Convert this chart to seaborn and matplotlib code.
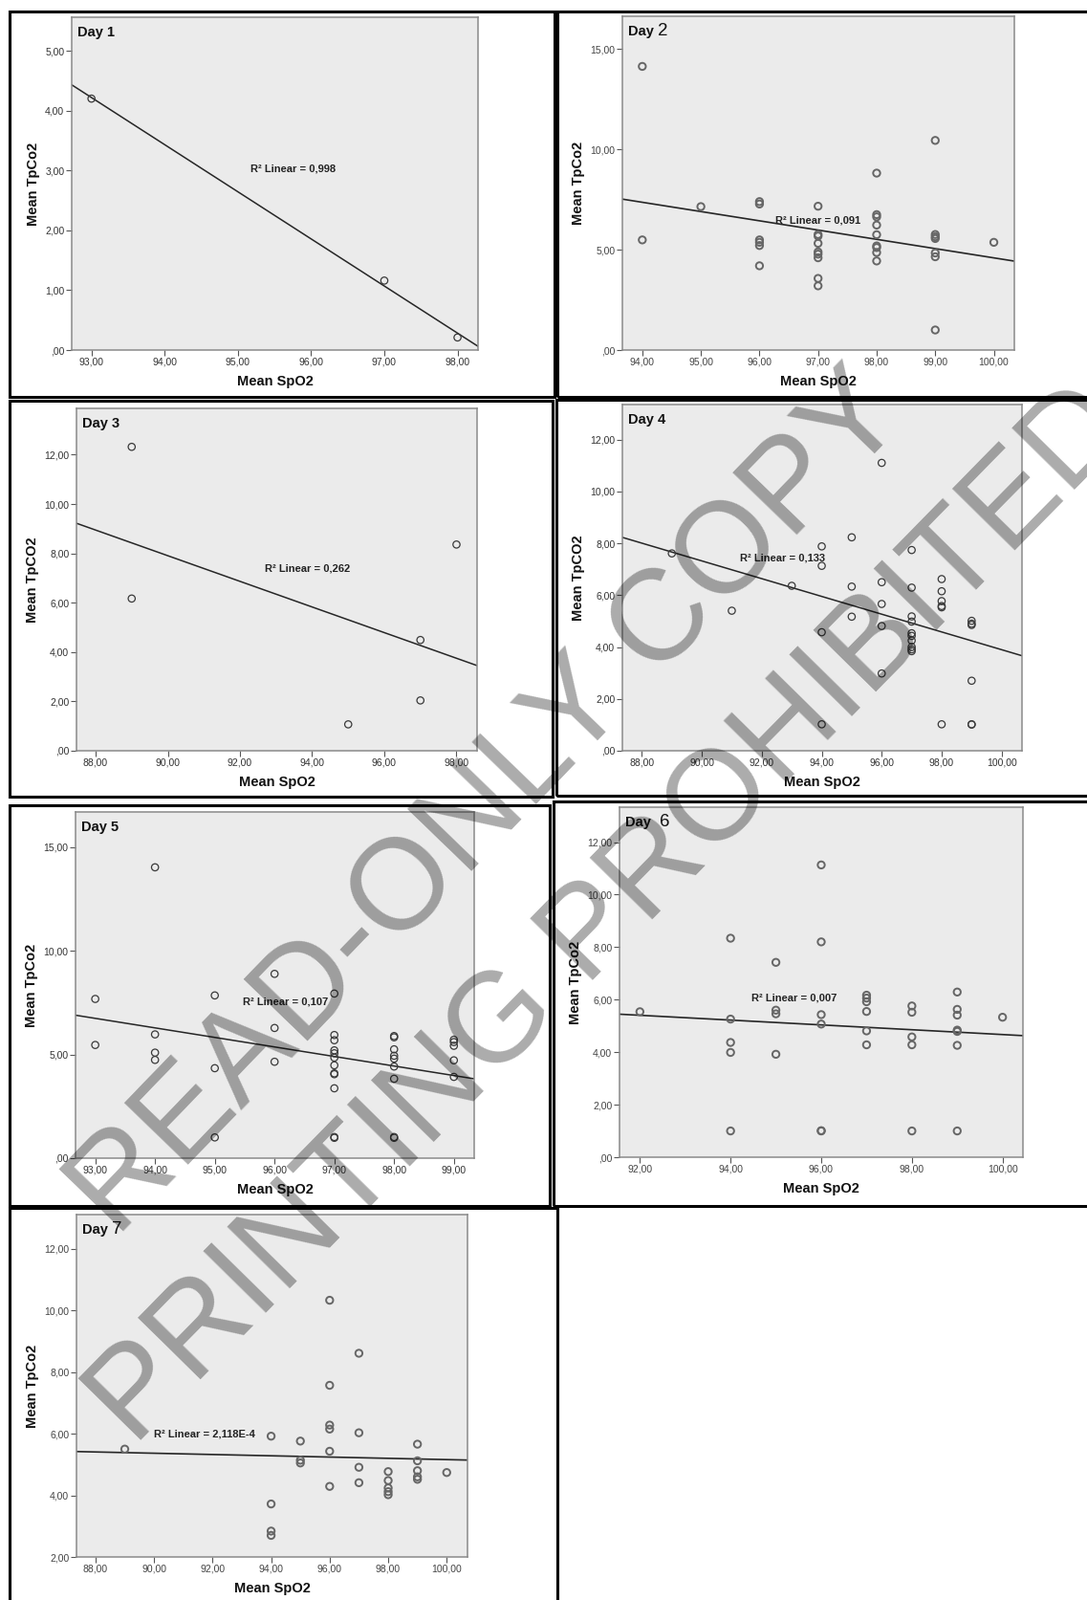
import matplotlib
matplotlib.use("Agg")
import matplotlib.pyplot as plt
from matplotlib.patches import Rectangle
from matplotlib.ticker import FuncFormatter, MultipleLocator
import seaborn as sns
import numpy as np
import pandas as pd

# ---------------- data ----------------
day1_spo2 = [93, 97, 98]
day1_tpco2 = [4.20, 1.16, 0.21]

day2_spo2 = [94, 94, 95, 96, 96, 96, 96, 96, 96, 97, 97, 97, 97, 97, 97, 97, 97, 97,
             98, 98, 98, 98, 98, 98, 98, 98, 98, 99, 99, 99, 99, 99, 99, 99, 100]
day2_tpco2 = [14.14, 5.49, 7.15, 7.40, 7.28, 5.49, 5.37, 5.21, 4.20, 7.17, 5.76, 5.68, 5.32,
              4.89, 4.78, 4.60, 3.57, 3.20, 8.82, 6.75, 6.64, 6.23, 5.75, 5.19, 5.11, 4.86,
              4.44, 10.45, 5.76, 5.65, 5.56, 4.84, 4.65, 1.00, 5.37]

day3_spo2 = [89, 89, 95, 97, 97, 98]
day3_tpco2 = [12.32, 6.17, 1.07, 4.49, 2.04, 8.36]

day4_spo2 = [89, 91, 93, 94, 94, 94, 94, 95, 95, 95, 96, 96, 96, 96, 96,
             97, 97, 97, 97, 97, 97, 97, 97, 97, 97, 98, 98, 98, 98, 98, 98,
             99, 99, 99, 99, 99, 99]
day4_tpco2 = [7.61, 5.40, 6.36, 7.88, 7.13, 4.57, 1.02, 8.23, 6.33, 5.17, 11.10, 6.50, 5.66,
              4.81, 2.98, 7.74, 6.29, 5.18, 4.98, 4.53, 4.43, 4.25, 4.00, 3.91, 3.84, 6.62,
              6.15, 5.77, 5.58, 5.53, 1.02, 5.01, 4.90, 4.85, 2.70, 1.02, 1.01]

day5_spo2 = [93, 93, 94, 94, 94, 94, 95, 95, 95, 96, 96, 96,
             97, 97, 97, 97, 97, 97, 97, 97, 97, 97, 97, 97,
             98, 98, 98, 98, 98, 98, 98, 98, 98, 99, 99, 99, 99, 99]
day5_tpco2 = [7.68, 5.46, 14.03, 5.97, 5.09, 4.74, 7.85, 4.34, 1.00, 8.89, 6.28, 4.65,
              7.94, 5.94, 5.69, 5.20, 5.06, 4.85, 4.48, 4.09, 4.05, 3.37, 1.02, 0.98,
              5.89, 5.83, 5.25, 4.94, 4.80, 4.42, 3.83, 1.02, 0.98, 5.71, 5.60, 5.42, 4.72, 3.92]

day6_spo2 = [92, 94, 94, 94, 94, 94, 95, 95, 95, 95, 96, 96, 96, 96, 96, 96,
             97, 97, 97, 97, 97, 97, 98, 98, 98, 98, 98,
             99, 99, 99, 99, 99, 99, 99, 100]
day6_tpco2 = [5.54, 8.34, 5.26, 4.37, 3.99, 1.00, 7.42, 5.60, 5.46, 3.92, 11.13, 8.20, 5.43,
              5.07, 1.00, 1.01, 6.17, 6.06, 5.92, 5.55, 4.81, 4.28, 5.76, 5.52, 4.58, 4.28, 1.00,
              6.29, 5.63, 5.41, 4.84, 4.79, 4.26, 1.00, 5.33]

day7_spo2 = [89, 94, 94, 94, 94, 95, 95, 95, 96, 96, 96, 96, 96, 96,
             97, 97, 97, 97, 98, 98, 98, 98, 98, 99, 99, 99, 99, 99, 100]
day7_tpco2 = [5.50, 5.92, 3.72, 2.84, 2.70, 5.76, 5.14, 5.05, 10.33, 7.57, 6.28, 6.15, 5.43, 4.29,
              8.61, 6.03, 4.91, 4.41, 4.77, 4.48, 4.24, 4.12, 4.02, 5.66, 5.12, 4.80, 4.60, 4.52, 4.74]

day_words = ["Day", "Day", "Day", "Day", "Day", "Day", "Day"]
day_numbers = ["1", "2", "3", "4", "5", "6", "7"]
y_labels = ["Mean TpCo2", "Mean TpCo2", "Mean TpCO2", "Mean TpCO2",
            "Mean TpCo2", "Mean TpCo2", "Mean TpCo2"]
x_label = "Mean SpO2"
r2_labels = ["R² Linear = 0,998", "R² Linear = 0,091", "R² Linear = 0,262",
             "R² Linear = 0,133", "R² Linear = 0,107", "R² Linear = 0,007",
             "R² Linear = 2,118E-4"]
watermark_lines = ["READ-ONLY COPY", "PRINTING PROHIBITED"]

all_spo2 = [day1_spo2, day2_spo2, day3_spo2, day4_spo2, day5_spo2, day6_spo2, day7_spo2]
all_tpco2 = [day1_tpco2, day2_tpco2, day3_tpco2, day4_tpco2, day5_tpco2, day6_tpco2, day7_tpco2]

# ---------------- layout / style ----------------
W, H = 1137, 1673
# plot areas in pixels: left, top, right, bottom
axes_px = [(75, 18, 500, 366), (651, 17, 1061, 366),
           (80, 427, 499, 785), (651, 423, 1069, 785),
           (79, 849, 496, 1211), (648, 844, 1070, 1210),
           (80, 1270, 489, 1628)]
boxes_px = [(10, 12, 580, 415), (583, 12, 1145, 415),
            (10, 419, 578, 833), (582, 418, 1145, 832),
            (10, 842, 575, 1261), (579, 838, 1145, 1261),
            (10, 1263, 583, 1685)]
xlims = [(92.73, 98.28), (93.66, 100.35), (87.47, 98.57), (87.35, 100.68),
         (92.67, 99.34), (91.55, 100.45), (87.35, 100.71)]
ylims = [(0, 5.56), (0, 16.64), (0, 13.88), (0, 13.35), (0, 16.7), (0, 13.33), (2, 13.11)]
xsteps = [1, 1, 2, 2, 1, 2, 2]
ysteps = [1, 5, 2, 2, 5, 2, 2]
r2_pos = [(95.75, 3.03), (97.0, 6.48), (93.88, 7.40), (92.68, 7.42),
          (96.19, 7.52), (95.40, 6.06), (91.71, 6.00)]
# scanned panels (2, 6, 7) look softer: grey, thicker circles, bigger day number
soft = [False, True, False, False, False, True, True]
num_offset = [22, 22, 22, 22, 22, 26, 22]
# watermark placement (pixel centre, angle, size)
wm_pos = [(512, 842), (638, 958)]
wm_angle = [46.0, 45.5]
wm_size = [97, 96]

sns.set_style("white")
plt.rcParams["font.family"] = ["Liberation Sans", "DejaVu Sans"]


def spss_fmt(v, pos):
    s = f"{v:.2f}".replace(".", ",")
    if s.startswith("0,"):
        s = s[1:]
    return s


fig = plt.figure(figsize=(W / 100, H / 100), dpi=100)
fig.patch.set_facecolor("white")

for i in range(7):
    l, t, r, b = axes_px[i]
    ax = fig.add_axes([l / W, 1 - b / H, (r - l) / W, (b - t) / H])
    ax.set_facecolor("#ebebeb")
    ax.set_xlim(*xlims[i])
    ax.set_ylim(*ylims[i])
    df = pd.DataFrame({"spo2": all_spo2[i], "tpco2": all_tpco2[i]})
    ec = "#666666" if soft[i] else "#3a3a3a"
    elw = 1.4 if soft[i] else 0.9
    sns.regplot(data=df, x="spo2", y="tpco2", ax=ax, ci=None, truncate=False,
                color="#333333",
                scatter_kws=dict(facecolors="none", edgecolors=ec, s=28,
                                 linewidths=elw, alpha=1, zorder=3),
                line_kws=dict(color="#262626", lw=1.2 if soft[i] else 1.1, zorder=2))
    ax.set_xlim(*xlims[i])
    ax.set_ylim(*ylims[i])
    ax.xaxis.set_major_locator(MultipleLocator(xsteps[i]))
    ax.yaxis.set_major_locator(MultipleLocator(ysteps[i]))
    ax.xaxis.set_major_formatter(FuncFormatter(spss_fmt))
    ax.yaxis.set_major_formatter(FuncFormatter(spss_fmt))
    ax.tick_params(axis="both", direction="out", length=4, width=0.8, color="#555555",
                   labelsize=7.5, labelcolor="#444444" if soft[i] else "#333333", pad=1.5,
                   bottom=True, left=True, top=False, right=False)
    for sp in ax.spines.values():
        sp.set_color("#8a8a8a")
        sp.set_linewidth(1.1)
    ax.set_xlabel(x_label, fontsize=10.5, fontweight="bold", labelpad=6, color="#111111")
    ax.set_ylabel(y_labels[i], fontsize=10.5, fontweight="bold", labelpad=4, color="#111111")
    if soft[i]:
        ax.text(0.015, 0.975, day_words[i], transform=ax.transAxes, ha="left", va="top",
                fontsize=10.5, fontweight="bold", color="#111111")
        ax.annotate(day_numbers[i], xy=(0.015, 0.975), xycoords="axes fraction",
                    xytext=(num_offset[i], 1.5), textcoords="offset points",
                    ha="left", va="top", fontsize=13.5, color="#111111")
    else:
        ax.text(0.015, 0.975, day_words[i] + " " + day_numbers[i], transform=ax.transAxes,
                ha="left", va="top", fontsize=10.5, fontweight="bold", color="#111111")
    ax.text(r2_pos[i][0], r2_pos[i][1], r2_labels[i], ha="center", va="center",
            fontsize=8, fontweight="bold", color="#222222", zorder=4)

for (x0, y0, x1, y1) in boxes_px:
    fig.add_artist(Rectangle((x0 / W, 1 - y1 / H), (x1 - x0) / W, (y1 - y0) / H,
                             transform=fig.transFigure, fill=False, lw=2.2,
                             edgecolor="black", zorder=10))

# watermark
for k in range(2):
    fig.text(wm_pos[k][0] / W, 1 - wm_pos[k][1] / H, watermark_lines[k],
             rotation=wm_angle[k], ha="center", va="center", rotation_mode="anchor",
             fontsize=wm_size[k], color="black", alpha=0.33, zorder=20)

fig.savefig("out.png", dpi=100)
